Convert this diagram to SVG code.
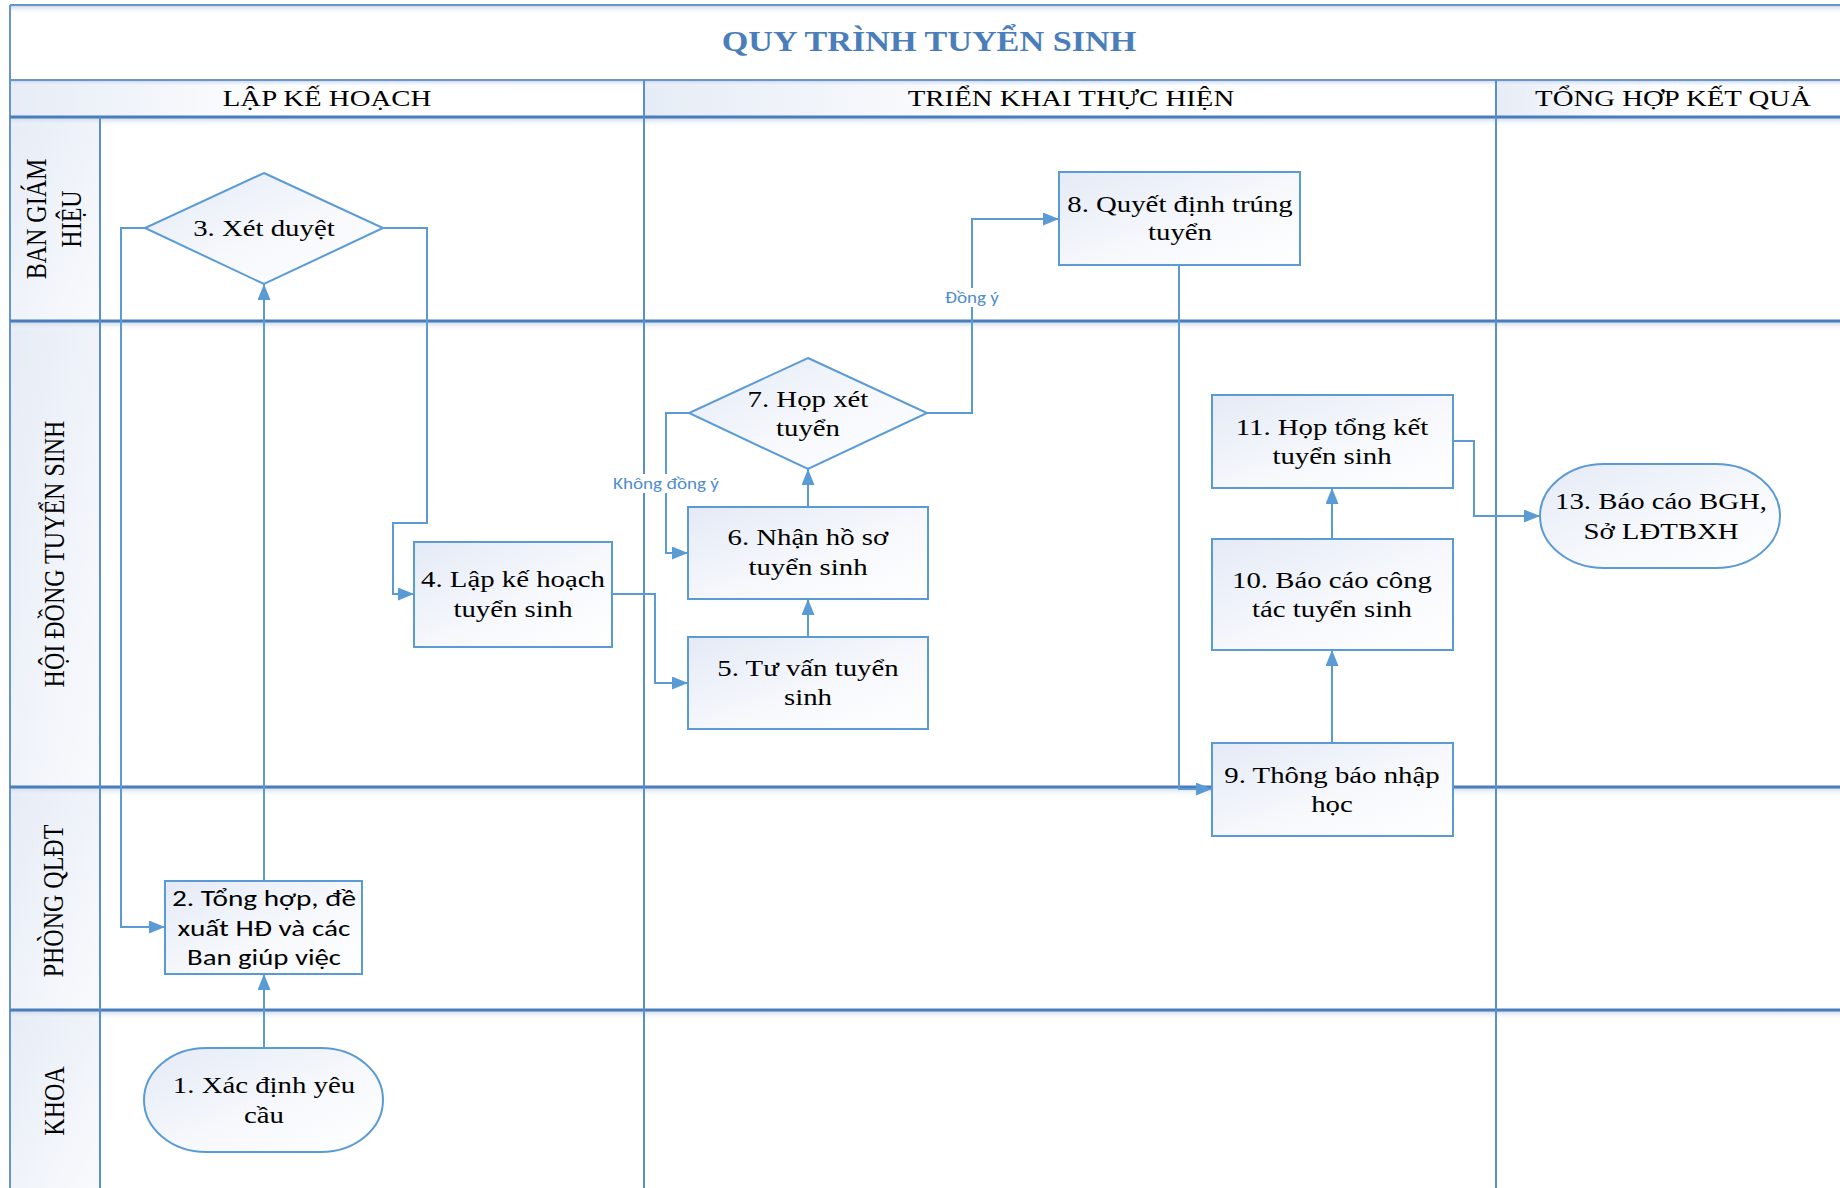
<svg xmlns="http://www.w3.org/2000/svg" width="1840" height="1188" viewBox="0 0 1840 1188">
<defs>
  <linearGradient id="gNode" x1="0" y1="0" x2="1" y2="1">
    <stop offset="0" stop-color="#E4EAF6"/>
    <stop offset="0.55" stop-color="#F6F8FC"/>
    <stop offset="1" stop-color="#FFFFFF"/>
  </linearGradient>
  <linearGradient id="gLabel" x1="0" y1="0" x2="1" y2="1">
    <stop offset="0" stop-color="#E6ECF6"/>
    <stop offset="1" stop-color="#F9FAFD"/>
  </linearGradient>
  <linearGradient id="gHead" x1="0" y1="0" x2="1" y2="0">
    <stop offset="0" stop-color="#E6ECF6"/>
    <stop offset="0.45" stop-color="#FFFFFF"/>
    <stop offset="1" stop-color="#FFFFFF"/>
  </linearGradient>
  <linearGradient id="gShadow" x1="0" y1="0" x2="0" y2="1">
    <stop offset="0" stop-color="#C8D6EA" stop-opacity="0.9"/>
    <stop offset="1" stop-color="#FFFFFF" stop-opacity="0"/>
  </linearGradient>
  <marker id="arr" viewBox="0 0 16 13" refX="16" refY="6.5" markerWidth="16" markerHeight="13" markerUnits="userSpaceOnUse" orient="auto">
    <path d="M0,0 L16,6.5 L0,13 z" fill="#5B9BD5"/>
  </marker>
</defs>
<style>
  .frame{stroke:#6A95CC;stroke-width:2;fill:none}
  .lane{stroke:#4A7DBA;stroke-width:3;fill:none}
  .col{stroke:#5B8FCB;stroke-width:2;fill:none}
  .shape{fill:url(#gNode);stroke:#5B9BD5;stroke-width:2}
  .conn{stroke:#5B9BD5;stroke-width:2;fill:none;marker-end:url(#arr)}
  .line{stroke:#5B9BD5;stroke-width:2;fill:none}
  .t{font-family:"Liberation Serif","Times New Roman",serif;font-size:24px;fill:#000;text-anchor:middle;transform-box:fill-box;transform-origin:center;transform:scaleX(1.2)}
  .ttl{font-family:"Liberation Serif","Times New Roman",serif;font-size:28.5px;font-weight:bold;fill:#4A7EBB;text-anchor:middle;transform-box:fill-box;transform-origin:center;transform:scaleX(1.2)}
  .lt{font-family:"Liberation Serif","Times New Roman",serif;font-size:24px;fill:#000;text-anchor:middle}
  .s{font-family:Carlito,Lato,"Liberation Sans",sans-serif;font-size:22px;fill:#000;text-anchor:middle}
  .lbl{font-family:Carlito,Lato,"Liberation Sans",sans-serif;font-size:16px;fill:#4F8DCB;text-anchor:middle}
</style>

<rect x="0" y="0" width="1840" height="1188" fill="#FFFFFF"/>

<g id="swimlanes">
  <!-- header cells -->
  <rect x="10" y="80" width="634" height="37" fill="url(#gHead)"/>
  <rect x="644" y="80" width="852" height="37" fill="url(#gHead)"/>
  <rect x="1496" y="80" width="344" height="37" fill="url(#gHead)"/>
  <!-- lane label cells -->
  <rect x="10" y="117" width="90" height="204" fill="url(#gLabel)"/>
  <rect x="10" y="321" width="90" height="466" fill="url(#gLabel)"/>
  <rect x="10" y="787" width="90" height="223" fill="url(#gLabel)"/>
  <rect x="10" y="1010" width="90" height="178" fill="url(#gLabel)"/>
  <!-- shadows -->
  <rect x="10" y="6" width="1830" height="8" fill="url(#gShadow)"/>
  <rect x="10" y="81" width="1830" height="6" fill="url(#gShadow)"/>
  <rect x="10" y="118" width="1830" height="9" fill="url(#gShadow)"/>
  <rect x="10" y="322" width="1830" height="9" fill="url(#gShadow)"/>
  <rect x="10" y="788" width="1830" height="9" fill="url(#gShadow)"/>
  <rect x="10" y="1011" width="1830" height="9" fill="url(#gShadow)"/>
  <!-- lines -->
  <path class="frame" d="M10,5 H1840 M10,5 V1188 M10,80 H1840"/>
  <path class="lane" d="M10,117 H1840 M10,321 H1840 M10,787 H1840 M10,1010 H1840"/>
  <path class="col" d="M100,117 V1188 M644,80 V1188 M1496,80 V1188"/>
  <!-- title and headers -->
  <text class="ttl" x="929" y="51">QUY TRÌNH TUYỂN SINH</text>
  <text class="t" x="327" y="106">LẬP KẾ HOẠCH</text>
  <text class="t" x="1071" y="106">TRIỂN KHAI THỰC HIỆN</text>
  <text class="t" x="1673" y="106">TỔNG HỢP KẾT QUẢ</text>
  <!-- lane labels -->
  <g transform="translate(55,219) scale(1.2,1) rotate(-90)">
    <text class="lt" x="0" y="-7.5">BAN GIÁM</text>
    <text class="lt" x="0" y="22">HIỆU</text>
  </g>
  <g transform="translate(64,554) scale(1.2,1) rotate(-90)">
    <text class="lt" x="0" y="0">HỘI ĐỒNG TUYỂN SINH</text>
  </g>
  <g transform="translate(63,901) scale(1.2,1) rotate(-90)">
    <text class="lt" x="0" y="0">PHÒNG QLĐT</text>
  </g>
  <g transform="translate(64,1101) scale(1.2,1) rotate(-90)">
    <text class="lt" x="0" y="0">KHOA</text>
  </g>
</g>

<g id="connectors">
  <path class="conn" d="M264,1048 V974"/>
  <path class="conn" d="M264,881 V284"/>
  <path class="conn" d="M145,228 H121 V927 H165"/>
  <path class="conn" d="M383,228 H427 V523 H393 V594 H414"/>
  <path class="conn" d="M612,594 H655 V683 H688"/>
  <path class="conn" d="M808,637 V599"/>
  <path class="conn" d="M808,507 V469"/>
  <path class="conn" d="M689,413 H666 V553 H688"/>
  <path class="conn" d="M927,413 H972 V219 H1059"/>
  <path class="conn" d="M1179,265 V789 H1212"/>
  <path class="conn" d="M1332,743 V650"/>
  <path class="conn" d="M1332,539 V488"/>
  <path class="conn" d="M1453,441 H1474 V516 H1540"/>
  <rect x="612" y="474" width="108" height="19" fill="#FFFFFF"/>
  <text class="lbl" x="666" y="489" textLength="106" lengthAdjust="spacingAndGlyphs">Không đồng ý</text>
  <rect x="944" y="288" width="56" height="19" fill="#FFFFFF"/>
  <text class="lbl" x="972" y="303" textLength="54" lengthAdjust="spacingAndGlyphs">Đồng ý</text>
</g>

<g id="n1">
  <rect class="shape" x="144" y="1048" width="239" height="104" rx="62" ry="52"/>
  <text class="t" x="264" y="1093">1. Xác định yêu</text>
  <text class="t" x="264" y="1123">cầu</text>
</g>
<g id="n2">
  <rect class="shape" x="165" y="881" width="197" height="93"/>
  <text class="s" x="264" y="906" textLength="184" lengthAdjust="spacingAndGlyphs">2. Tổng hợp, đề</text>
  <text class="s" x="264" y="936" textLength="173" lengthAdjust="spacingAndGlyphs">xuất HĐ và các</text>
  <text class="s" x="264" y="965" textLength="154" lengthAdjust="spacingAndGlyphs">Ban giúp việc</text>
</g>
<g id="n3">
  <polygon class="shape" points="264,173 383,228 264,284 145,228"/>
  <text class="t" x="264" y="236">3. Xét duyệt</text>
</g>
<g id="n4">
  <rect class="shape" x="414" y="542" width="198" height="105"/>
  <text class="t" x="513" y="587">4. Lập kế hoạch</text>
  <text class="t" x="513" y="617">tuyển sinh</text>
</g>
<g id="n5">
  <rect class="shape" x="688" y="637" width="240" height="92"/>
  <text class="t" x="808" y="676">5. Tư vấn tuyển</text>
  <text class="t" x="808" y="705">sinh</text>
</g>
<g id="n6">
  <rect class="shape" x="688" y="507" width="240" height="92"/>
  <text class="t" x="808" y="545">6. Nhận hồ sơ</text>
  <text class="t" x="808" y="575">tuyển sinh</text>
</g>
<g id="n7">
  <polygon class="shape" points="808,358 927,413 808,469 689,413"/>
  <text class="t" x="808" y="407">7. Họp xét</text>
  <text class="t" x="808" y="436">tuyển</text>
</g>
<g id="n8">
  <rect class="shape" x="1059" y="172" width="241" height="93"/>
  <text class="t" x="1180" y="212">8. Quyết định trúng</text>
  <text class="t" x="1180" y="240">tuyển</text>
</g>
<g id="n9">
  <rect class="shape" x="1212" y="743" width="241" height="93"/>
  <text class="t" x="1332" y="783">9. Thông báo nhập</text>
  <text class="t" x="1332" y="812">học</text>
</g>
<g id="n10">
  <rect class="shape" x="1212" y="539" width="241" height="111"/>
  <text class="t" x="1332" y="588">10. Báo cáo công</text>
  <text class="t" x="1332" y="617">tác tuyển sinh</text>
</g>
<g id="n11">
  <rect class="shape" x="1212" y="395" width="241" height="93"/>
  <text class="t" x="1332" y="435">11. Họp tổng kết</text>
  <text class="t" x="1332" y="464">tuyển sinh</text>
</g>
<g id="n13">
  <rect class="shape" x="1540" y="464" width="240" height="104" rx="64" ry="52"/>
  <text class="t" x="1661" y="509">13. Báo cáo BGH,</text>
  <text class="t" x="1661" y="539">Sở LĐTBXH</text>
</g>
</svg>
